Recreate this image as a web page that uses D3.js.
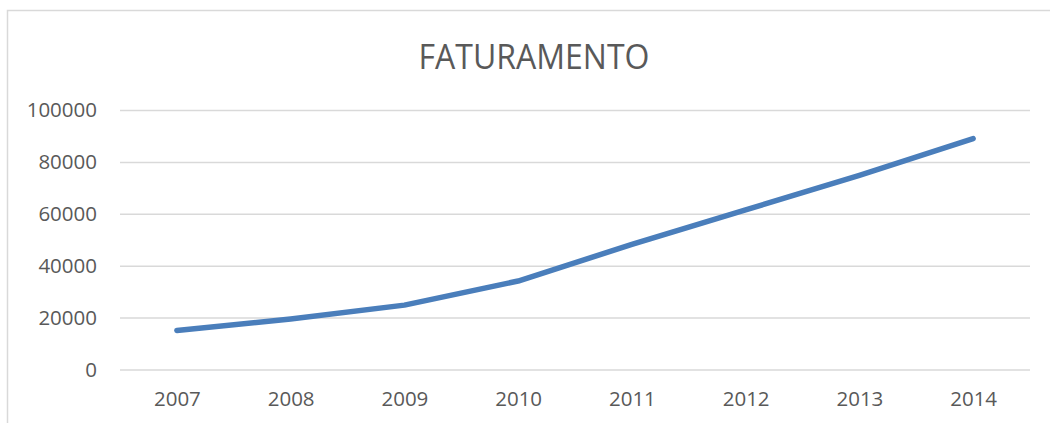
<!DOCTYPE html>
<html>
<head>
<meta charset="utf-8">
<script src="https://cdn.jsdelivr.net/npm/d3@7"></script>
<style>
  html, body { margin: 0; padding: 0; background: #fff; }
  text { font-family: "Open Sans", "Liberation Sans", sans-serif; fill: #595959; }
</style>
</head>
<body>
<div id="chart"></div>
<script>
var years = ["2007", "2008", "2009", "2010", "2011", "2012", "2013", "2014"];
var faturamento = [15000, 19500, 24800, 34100, 48200, 61500, 74800, 89000];
var yTicks = [0, 20000, 40000, 60000, 80000, 100000];
var title = "FATURAMENTO";

var width = 1050, height = 423;
var margin = { top: 110, right: 20, bottom: 53.5, left: 120 };

var svg = d3.select("#chart").append("svg")
    .attr("width", width)
    .attr("height", height);

// chart frame (only top and left edges are visible in the crop)
svg.append("rect")
    .attr("x", 7.5)
    .attr("y", 10.5)
    .attr("width", 1200)
    .attr("height", 600)
    .attr("fill", "none")
    .attr("stroke", "#d9d9d9")
    .attr("stroke-width", 1.5);

var x = d3.scalePoint()
    .domain(years)
    .range([margin.left, width - margin.right])
    .padding(0.5);

var y = d3.scaleLinear()
    .domain([0, 100000])
    .range([height - margin.bottom, margin.top]);

svg.append("text")
    .attr("x", 534)
    .attr("y", 68.5)
    .attr("text-anchor", "middle")
    .attr("font-size", 34)
    .attr("textLength", 231)
    .attr("lengthAdjust", "spacingAndGlyphs")
    .text(title);

// gridlines + y labels
var yAxis = d3.axisLeft(y)
    .tickValues(yTicks)
    .tickSize(-(width - margin.left - margin.right))
    .tickPadding(23)
    .tickFormat(d3.format("d"));

svg.append("g")
    .attr("transform", "translate(" + margin.left + ",0)")
    .call(yAxis)
    .call(g => g.select(".domain").remove())
    .call(g => g.selectAll(".tick line")
        .attr("stroke", "#d9d9d9")
        .attr("stroke-width", 1.5))
    .call(g => g.selectAll(".tick text")
        .attr("font-size", 20.5)
        .attr("fill", "#595959")
        .attr("font-family", "'Open Sans', 'Liberation Sans', sans-serif"));

// x labels
var xAxis = d3.axisBottom(x).tickSize(0).tickPadding(22);

svg.append("g")
    .attr("transform", "translate(0," + y(0) + ")")
    .call(xAxis)
    .call(g => g.select(".domain").remove())
    .call(g => g.selectAll(".tick text")
        .attr("font-size", 20.5)
        .attr("fill", "#595959")
        .attr("font-family", "'Open Sans', 'Liberation Sans', sans-serif"));

var line = d3.line()
    .x((d, i) => x(years[i]))
    .y(d => y(d));

svg.append("path")
    .datum(faturamento)
    .attr("fill", "none")
    .attr("stroke", "#4a7ebb")
    .attr("stroke-width", 5.5)
    .attr("stroke-linecap", "round")
    .attr("stroke-linejoin", "round")
    .attr("d", line);
</script>
</body>
</html>
